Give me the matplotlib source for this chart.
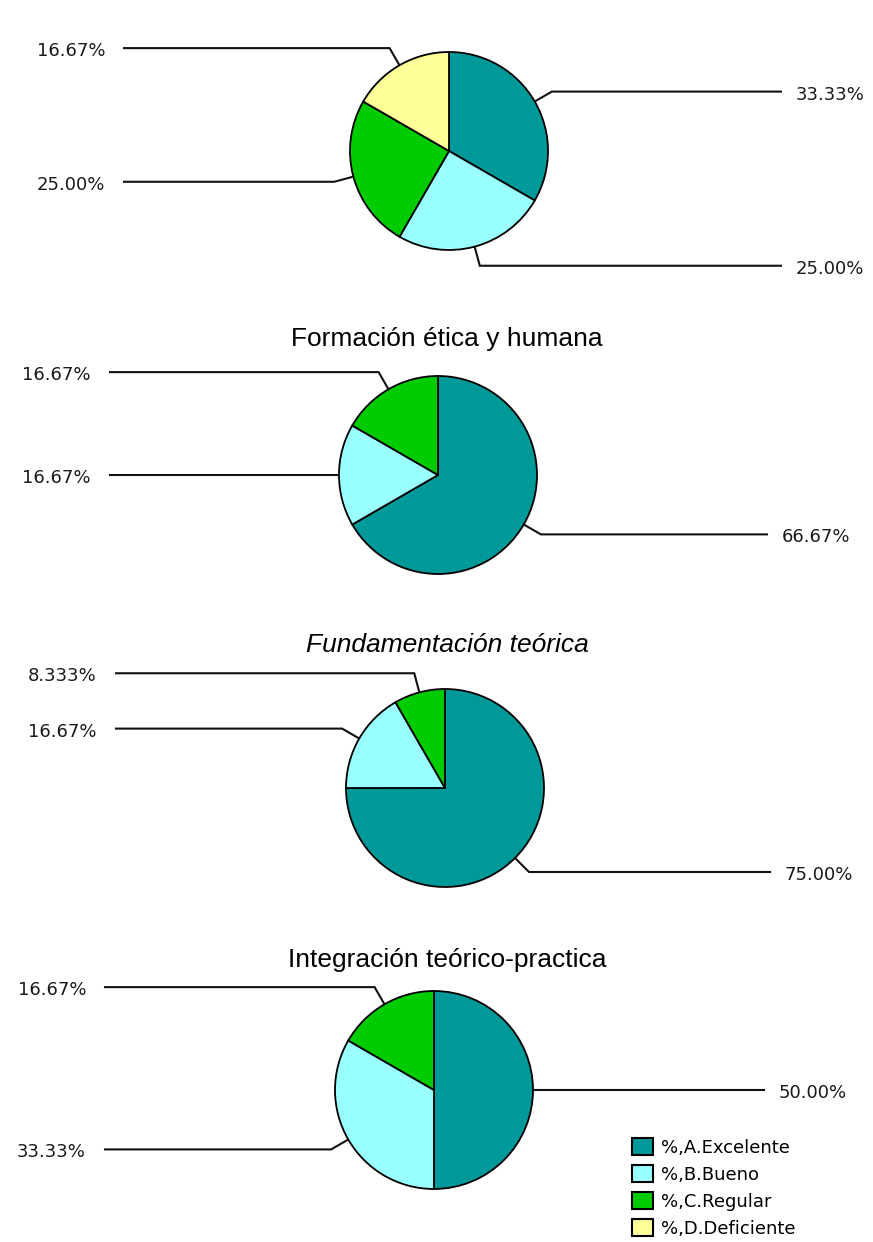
import numpy as np
import matplotlib
matplotlib.use('Agg')
import matplotlib.pyplot as plt
from matplotlib.patches import Patch

# ---------------- data ----------------
categories = ['%,A.Excelente', '%,B.Bueno', '%,C.Regular', '%,D.Deficiente']
colors = ['#009999', '#99FFFF', '#00CC00', '#FFFF99']

titles = ['', 'Formación ética y humana', 'Fundamentación teórica',
          'Integración teórico-practica']
title_italic = [False, False, True, False]

pie1 = [33.33, 25.00, 25.00, 16.67]
pie2 = [66.67, 16.67, 16.67, 0.0]
pie3 = [75.00, 16.67, 8.333, 0.0]
pie4 = [50.00, 33.33, 16.67, 0.0]
pies = [pie1, pie2, pie3, pie4]

# ---------------- layout (pixels) ----------------
W, H = 873, 1242
R = 99.0
layouts = [
    dict(cx=449, cy=151, top=0, bot=300, lx=124, rx=781, ty=None),
    dict(cx=438, cy=475, top=300, bot=620, lx=110, rx=767, ty=346),
    dict(cx=445, cy=788, top=620, bot=940, lx=116, rx=770, ty=652),
    dict(cx=434, cy=1090, top=940, bot=1242, lx=105, rx=764, ty=967),
]

fig = plt.figure(figsize=(W / 100, H / 100), dpi=100)
fig.patch.set_facecolor('white')

label_font = dict(family=['DejaVu Sans'], size=13, color='#1a1a1a')

for vals, lay, title, ital in zip(pies, layouts, titles, title_italic):
    cx, cy, top, bot = lay['cx'], lay['cy'], lay['top'], lay['bot']
    ax = fig.add_axes([0, 1 - bot / H, 1, (bot - top) / H])
    idx = [i for i, v in enumerate(vals) if v > 0]
    v = [vals[i] for i in idx]
    c = [colors[i] for i in idx]
    wedges, _ = ax.pie(v, colors=c, startangle=90, counterclock=False,
                       radius=1.0, center=(0, 0),
                       wedgeprops=dict(edgecolor='black', linewidth=1.3))
    ax.set_aspect('auto')
    ax.set_xlim(-cx / R, (W - cx) / R)
    ax.set_ylim((cy - bot) / R, (cy - top) / R)
    ax.axis('off')

    for w, val in zip(wedges, v):
        mid = np.deg2rad((w.theta1 + w.theta2) / 2.0)
        ca, sa = np.cos(mid), np.sin(mid)
        p0 = (ca, sa)
        p1 = (1.2 * ca, 1.2 * sa)
        right = ca >= -1e-9
        if right:
            xe = (lay['rx'] - cx) / R
            tx, ha = xe + 15 / R, 'left'
        else:
            xe = (lay['lx'] - cx) / R
            tx, ha = xe - 19 / R, 'right'
        ax.plot([p0[0], p1[0], xe], [p0[1], p1[1], p1[1]],
                color='#111111', lw=1.5, clip_on=False,
                solid_joinstyle='miter', zorder=0)
        ax.text(tx, p1[1] - 8 / R, f"{val:#.4g}%", ha=ha, va='baseline',
                **label_font)

    if title:
        fig.text(447 / W, 1 - lay['ty'] / H, title, ha='center', va='baseline',
                 family=['Liberation Sans', 'DejaVu Sans'], size=19,
                 style='italic' if ital else 'normal', color='black')

handles = [Patch(facecolor=col, edgecolor='black', linewidth=1.5)
           for col in colors]
fig.legend(handles, categories, loc='upper left',
           bbox_to_anchor=(632 / W, 1 - 1138 / H),
           frameon=False, borderpad=0, borderaxespad=0,
           handlelength=21 / 18.06, handleheight=20 / 18.06,
           handletextpad=0.45, labelspacing=0.45,
           prop=dict(family='DejaVu Sans', size=13))

fig.savefig('out.png', dpi=100, facecolor='white')
